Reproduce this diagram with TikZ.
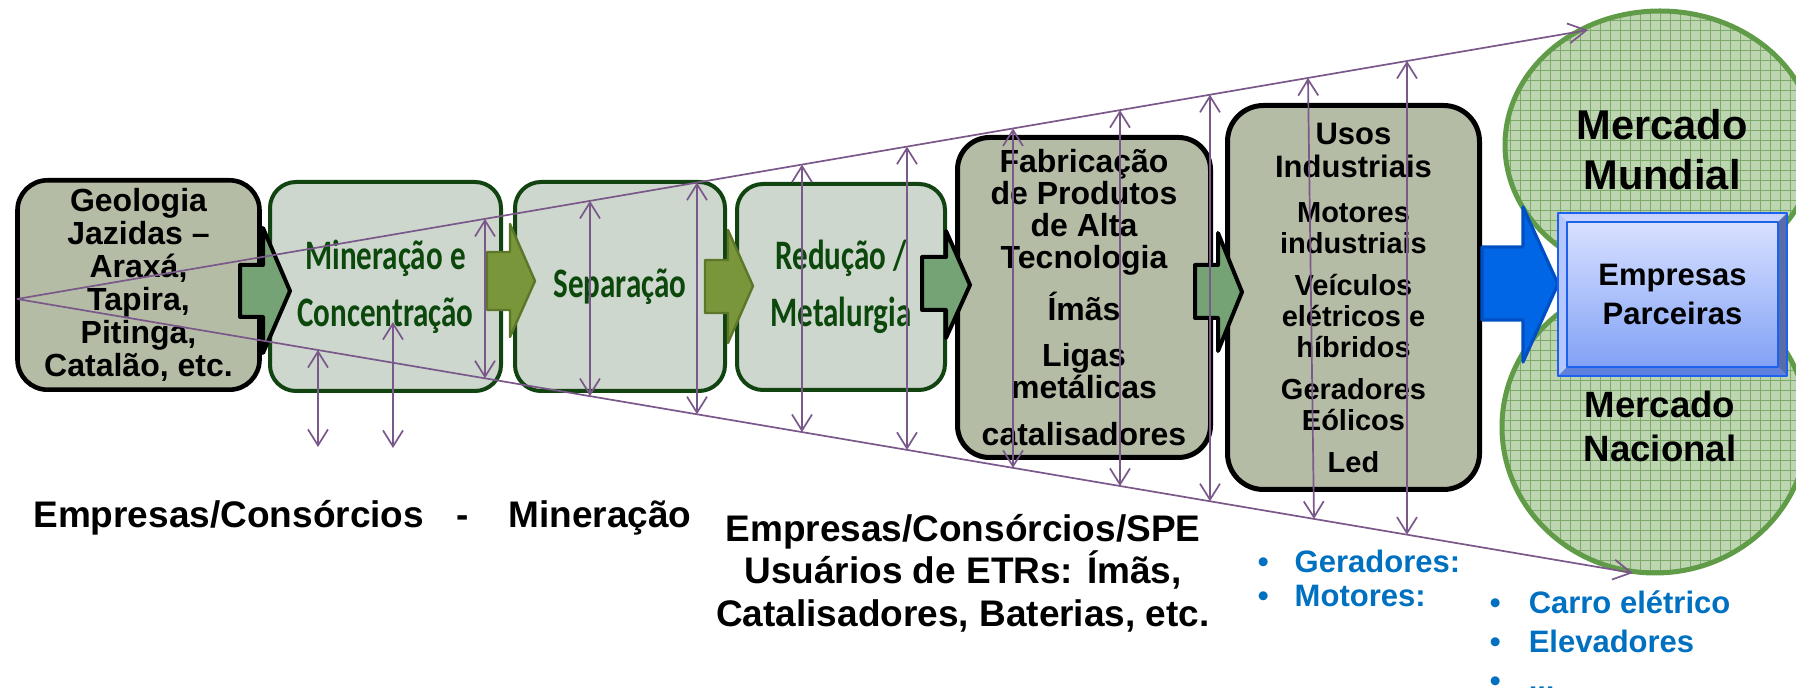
\documentclass[tikz,border=0pt]{standalone}
\usepackage{fontspec}
\setmainfont{Liberation Sans}
\newfontfamily\calib[FakeStretch=0.74]{Carlito}
\usetikzlibrary{arrows.meta,calc}

\definecolor{boxgray}{RGB}{181,188,166}
\definecolor{boxlight}{RGB}{206,215,205}
\definecolor{darkgreen}{RGB}{18,68,18}
\definecolor{textgreen}{RGB}{12,72,12}
\definecolor{darkarrowfill}{RGB}{118,163,118}
\definecolor{olivefill}{RGB}{122,150,58}
\definecolor{olivedraw}{RGB}{92,118,42}
\definecolor{bluefill}{RGB}{0,102,230}
\definecolor{bluedraw}{RGB}{0,80,195}
\definecolor{circfill}{RGB}{190,213,178}
\definecolor{circgrid}{RGB}{124,170,104}
\definecolor{circedge}{RGB}{96,155,72}
\definecolor{funnel}{RGB}{122,88,138}
\definecolor{bluetext}{RGB}{0,112,192}
\definecolor{bevtop}{RGB}{200,212,255}
\definecolor{bevleft}{RGB}{182,198,255}
\definecolor{bevright}{RGB}{88,108,170}
\definecolor{bevbot}{RGB}{96,128,222}
\definecolor{facetop}{RGB}{216,224,255}
\definecolor{facebot}{RGB}{130,162,246}
\definecolor{empedge}{RGB}{28,98,238}

% block arrow: style, x0, shaft y1, shaft y2, head x, head y1, head y2, tip x, tip y
\newcommand{\blockarr}[9]{%
  \draw[#1] (#2,#3) -- (#5,#3) -- (#5,#6) -- (#8,#9) -- (#5,#7) -- (#5,#4) -- (#2,#4) -- cycle;}

\tikzset{
  darkbox/.style={draw=black, line width=2.3pt, fill=boxgray, rounded corners=15pt,
    inner sep=0pt, align=center, font=\bfseries\fontsize{16}{16.5}\selectfont},
  lightbox/.style={draw=darkgreen, line width=2pt, fill=boxlight, rounded corners=13pt,
    inner sep=0pt, align=center, text=textgreen, font=\calib\bfseries\fontsize{21}{28.5}\selectfont},
  darkarrow/.style={fill=darkarrowfill, draw=black, line width=2pt},
  olivearrow/.style={fill=olivefill, draw=olivedraw, line width=1.2pt},
  bluearrow/.style={fill=bluefill, draw=bluedraw, line width=1.6pt},
  funnelline/.style={draw=funnel, line width=0.85pt},
  dbl/.style={funnelline, {Straight Barb[length=8pt,width=10pt]}-{Straight Barb[length=8pt,width=10pt]}},
  single/.style={funnelline, -{Straight Barb[length=9pt,width=10pt]}},
  bottomtext/.style={inner sep=0pt, font=\bfseries\fontsize{18.5}{21.3}\selectfont},
  bluelist/.style={inner sep=0pt, anchor=base west, text=bluetext, font=\bfseries\fontsize{15.5}{19.5}\selectfont},
  mtext/.style={inner sep=0pt, align=center},
}

\begin{document}
\begin{tikzpicture}[x=0.5pt,y=-0.5pt,line join=round]
\useasboundingbox (0,0) rectangle (1796,688);

% ---- chain boxes
\node[darkbox, minimum width=121pt, minimum height=104.7pt] (geo) at (138.5,285)
  {Geologia\\Jazidas –\\Araxá,\\Tapira,\\Pitinga,\\Catalão, etc.};
\node[lightbox, minimum width=115.5pt, minimum height=104.5pt] (min) at (385.5,286.5)
  {Mineração e\\Concentração};
\node[lightbox, minimum width=105pt, minimum height=104.5pt] (sep) at (620,286.5)
  {Separação};
\node[lightbox, minimum width=104pt, minimum height=103pt] (red) at (841,287)
  {Redução /\\Metalurgia};
\node[darkbox, line width=2.5pt, rounded corners=16pt, minimum width=126.5pt, minimum height=160pt,
  font=\bfseries\fontsize{16}{16}\selectfont] (fab) at (1084,297.5)
  {Fabricação\\de Produtos\\de Alta\\Tecnologia\\[7.5pt]Ímãs\\[7pt]Ligas\\metálicas\\[7.5pt]catalisadores};
\node[darkbox, line width=2.5pt, rounded corners=18pt, minimum width=126pt, minimum height=192pt,
  font=\bfseries\fontsize{14.5}{15.5}\selectfont] (uso) at (1353.5,297.5)
  {{\fontsize{15.5}{15.5}\selectfont Usos}\\[1pt]{\fontsize{15.5}{15.5}\selectfont Industriais}\\[7pt]Motores\\industriais\\[5.5pt]Veículos\\elétricos e\\híbridos\\[5.5pt]Geradores\\Eólicos\\[5.5pt]Led};

% ---- block arrows between boxes
\blockarr{darkarrow}{240}{265}{317}{263}{228}{353}{290}{291}
\blockarr{olivearrow}{487}{252}{310}{510}{224}{337}{535}{281}
\blockarr{olivearrow}{705}{260}{313}{728}{230}{343}{753}{286}
\blockarr{darkarrow}{922}{257}{310}{946}{231}{338}{970}{285}
\blockarr{darkarrow}{1195}{265}{318}{1218}{233}{351}{1242}{292}

% ---- market ellipses
\begin{scope}
  \clip (1660,145) ellipse [x radius=155, y radius=134];
  \fill[circfill] (1400,0) rectangle (1800,300);
  \draw[circgrid, line width=0.45pt, step=5pt] (1490,300) grid (1800,0);
\end{scope}
\draw[circedge, line width=2.5pt] (1660,145) ellipse [x radius=155, y radius=134];
\begin{scope}
  \clip (1655,427) ellipse [x radius=153, y radius=146];
  \fill[circfill] (1400,270) rectangle (1800,590);
  \draw[circgrid, line width=0.45pt, step=5pt] (1490,590) grid (1800,270);
\end{scope}
\draw[circedge, line width=2.5pt] (1655,427) ellipse [x radius=153, y radius=146];

% ---- blue arrow
\blockarr{bluearrow}{1482}{247}{320}{1523}{207}{362}{1558}{284}

% ---- Empresas Parceiras bevelled box
\coordinate (eNW) at (1558,213);
\coordinate (eSE) at (1787,376);
\fill[bevtop] (1558,213) -- (1787,213) -- (1778,222) -- (1567,222) -- cycle;
\fill[bevleft] (1558,213) -- (1567,222) -- (1567,367) -- (1558,376) -- cycle;
\fill[bevright] (1787,213) -- (1787,376) -- (1778,367) -- (1778,222) -- cycle;
\fill[bevbot] (1558,376) -- (1787,376) -- (1778,367) -- (1567,367) -- cycle;
\shade[top color=facetop, bottom color=facebot] (1567,222) rectangle (1778,367);
\draw[empedge, line width=0.7pt] (1567,222) rectangle (1778,367);
\draw[empedge, line width=1.3pt] (eNW) rectangle (eSE);
\node[mtext, font=\bfseries\fontsize{15.5}{19.5}\selectfont] (emp) at ($(eNW)!0.5!(eSE)$) {Empresas\\Parceiras};

% ---- market labels
\node[mtext, font=\bfseries\fontsize{20.8}{25}\selectfont] (mm) at (1662,150) {Mercado\\Mundial};
\node[mtext, font=\bfseries\fontsize{18.3}{22}\selectfont] (mn) at (1660,426) {Mercado\\Nacional};

% ---- funnel lines
\coordinate (A) at (17,299);
\coordinate (U) at (1588,30);
\coordinate (L) at (1633,573);
\draw[single] (A) -- (U);
\draw[single] (A) -- (L);
\foreach \xx [count=\i] in {485,590,697,802,907,1013,1120,1210,1407} {
  \coordinate (up\i) at ($(A)!{(\xx-17)/1571}!(U)$);
  \coordinate (lo\i) at ($(A)!{(\xx-17)/1616}!(L)$);
  \draw[dbl] (up\i) -- (lo\i);
}
\coordinate (upx) at ($(A)!{1291/1571}!(U)$);
\coordinate (lox) at ($(A)!{1297/1616}!(L)$);
\draw[dbl] (upx) -- (lox);
\coordinate (ma) at ($(A)!{301/1616}!(L)$);
\coordinate (mb) at (318,447);
\draw[dbl] (ma) -- (mb);
\coordinate (mc) at (393,322);
\coordinate (md) at (393,448);
\draw[dbl] (mc) -- (md);

% ---- bottom texts
\node[bottomtext, anchor=base west] (emin) at (33,528)
  {Empresas/Consórcios\hspace{16pt}-\hspace{20pt}Mineração};
\node[bottomtext, align=center] (espe) at (963,573)
  {Empresas/Consórcios/SPE\\Usuários de ETRs: Ímãs,\\Catalisadores, Baterias, etc.};

% ---- blue lists
\node[bluelist] (g1) at (1257.5,573) {•\hspace{13pt}Geradores:};
\node[bluelist] (g2) at (1257.5,607) {•\hspace{13pt}Motores:};
\node[bluelist] (c1) at (1489.5,614) {•\hspace{14pt}Carro elétrico};
\node[bluelist] (c2) at (1489.5,653) {•\hspace{14pt}Elevadores};
\node[bluelist] (c3) at (1489.5,692) {•\hspace{14pt}...};

\end{tikzpicture}
\end{document}
